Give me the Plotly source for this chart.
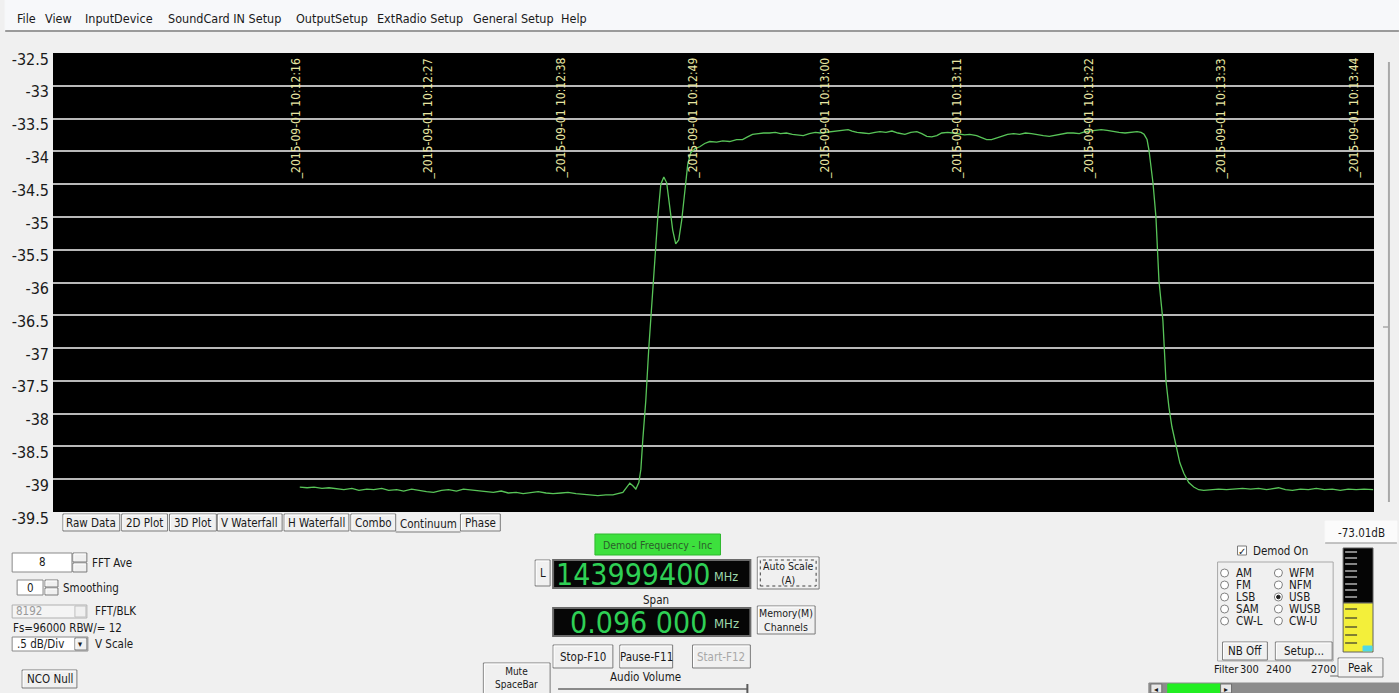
import pandas as pd
import plotly.graph_objects as go

# ---- signal level over time (seconds after 10:12:16) ----
T0 = pd.Timestamp("2015-09-01 10:12:16")

elapsed_s = [
    0.00, 0.61, 1.19, 1.85, 2.43, 3.09, 3.67, 4.34, 4.92, 5.58, 6.16, 6.82, 7.40, 8.07,
    8.65, 9.31, 9.89, 10.55, 11.13, 11.80, 12.38, 13.04, 13.62, 14.28, 14.86, 15.53,
    16.11, 16.77, 17.35, 18.01, 18.59, 19.26, 19.84, 20.50, 21.08, 21.75, 22.33, 22.99,
    23.57, 24.23, 24.81, 25.48, 26.06, 26.47, 26.89, 27.22, 27.47, 27.72, 27.97, 28.22,
    28.39, 28.55, 28.80, 29.05, 29.30, 29.55, 29.80, 30.05, 30.30, 30.54, 30.79, 31.04,
    31.29, 31.54, 31.79, 32.04, 32.29, 32.54, 32.87, 33.29, 33.70, 34.12, 34.70, 35.20,
    35.78, 36.36, 36.85, 37.27, 37.68, 38.18, 38.60, 39.09, 39.59, 40.01, 40.50, 41.00,
    41.50, 41.91, 42.41, 42.91, 43.32, 43.82, 44.32, 44.81, 45.31, 45.64, 45.97, 46.39,
    46.89, 47.38, 47.88, 48.29, 48.79, 49.29, 49.79, 50.37, 50.86, 51.36, 51.77, 52.19,
    52.60, 53.02, 53.43, 53.93, 54.35, 54.84, 55.34, 55.76, 56.34, 56.75, 57.17, 57.58,
    58.00, 58.41, 58.91, 59.41, 59.91, 60.40, 60.90, 61.40, 61.89, 62.39, 62.89, 63.39,
    63.88, 64.38, 64.88, 65.37, 65.87, 66.29, 66.70, 67.20, 67.70, 68.19, 68.69, 69.19,
    69.69, 70.02, 70.27, 70.52, 70.68, 71.02, 71.26, 71.51, 71.84, 72.09, 72.34, 72.59,
    72.92, 73.25, 73.58, 73.99, 74.41, 74.82, 75.24, 75.82, 76.48, 77.14, 77.81, 78.47,
    79.14, 79.80, 80.46, 80.96, 81.46, 82.04, 82.62, 83.29, 83.95, 84.61, 85.28, 85.94,
    86.60, 87.27, 87.93, 88.59, 89.34,
]

level_db = [
    -39.12, -39.13, -39.12, -39.14, -39.13, -39.15, -39.16, -39.14, -39.17, -39.15, -39.16,
    -39.14, -39.17, -39.16, -39.18, -39.15, -39.17, -39.19, -39.20, -39.17, -39.16, -39.18,
    -39.15, -39.16, -39.17, -39.19, -39.20, -39.18, -39.21, -39.20, -39.22, -39.20, -39.19,
    -39.21, -39.22, -39.21, -39.20, -39.22, -39.23, -39.24, -39.25, -39.24, -39.24, -39.22,
    -39.20, -39.12, -39.06, -39.10, -39.15, -39.05, -38.85, -38.40, -37.80, -37.00, -36.30,
    -35.60, -35.00, -34.50, -34.39, -34.48, -34.85, -35.20, -35.41, -35.35, -35.05, -34.60,
    -34.20, -34.02, -33.96, -33.93, -33.88, -33.85, -33.86, -33.84, -33.85, -33.82, -33.82,
    -33.78, -33.74, -33.73, -33.72, -33.72, -33.71, -33.73, -33.72, -33.74, -33.75, -33.76,
    -33.73, -33.71, -33.72, -33.71, -33.70, -33.69, -33.68, -33.67, -33.69, -33.71, -33.72,
    -33.73, -33.71, -33.70, -33.71, -33.69, -33.72, -33.74, -33.71, -33.70, -33.73, -33.77,
    -33.78, -33.76, -33.72, -33.71, -33.72, -33.74, -33.75, -33.74, -33.76, -33.79, -33.82,
    -33.82, -33.80, -33.77, -33.74, -33.73, -33.74, -33.72, -33.73, -33.75, -33.76, -33.77,
    -33.75, -33.74, -33.72, -33.72, -33.73, -33.70, -33.69, -33.68, -33.67, -33.68, -33.70,
    -33.71, -33.72, -33.71, -33.70, -33.71, -33.74, -33.82, -33.98, -34.49, -35.00, -35.97,
    -36.58, -37.49, -37.90, -38.20, -38.50, -38.75, -38.91, -39.05, -39.12, -39.16, -39.17,
    -39.16, -39.15, -39.16, -39.15, -39.14, -39.15, -39.14, -39.16, -39.15, -39.13, -39.16,
    -39.17, -39.15, -39.16, -39.14, -39.16, -39.15, -39.17, -39.15, -39.16, -39.15, -39.16,
]

marker_labels = [
    "2015-09-01 10:12:16", "2015-09-01 10:12:27", "2015-09-01 10:12:38",
    "2015-09-01 10:12:49", "2015-09-01 10:13:00", "2015-09-01 10:13:11",
    "2015-09-01 10:13:22", "2015-09-01 10:13:33", "2015-09-01 10:13:44",
]

y_ticks = [-32.5, -33, -33.5, -34, -34.5, -35, -35.5, -36, -36.5, -37, -37.5, -38, -38.5, -39, -39.5]
y_tick_text = ["-32.5", "-33", "-33.5", "-34", "-34.5", "-35", "-35.5", "-36", "-36.5",
               "-37", "-37.5", "-38", "-38.5", "-39", "-39.5"]

view_start_s = -20.54
view_end_s = 89.41

menu_items = ["File", "View", "InputDevice", "SoundCard IN Setup", "OutputSetup",
              "ExtRadio Setup", "General Setup", "Help"]
tab_names = ["Raw Data", "2D Plot", "3D Plot", "V Waterfall", "H Waterfall", "Combo", "Continuum", "Phase"]
modes_left = ["AM", "FM", "LSB", "SAM", "CW-L"]
modes_right = ["WFM", "NFM", "USB", "WUSB", "CW-U"]
filter_edges = ["300", "2400", "2700"]

# ---- page geometry ----
W, H = 1399, 693
ML, MR, MT, MB = 48, 25, 53, 181
PW, PH = W - ML - MR, H - MT - MB

UI_FONT = "Liberation Sans Narrow, DejaVu Sans Condensed, Liberation Sans, sans-serif"
BG = "#f0f0f0"


def PX(x):
    return (x - ML) / PW


def PY(y):
    return (H - MB - y) / PH


shapes = []
annotations = []


def box(x0, y0, x1, y1, fill=BG, line="#a0a0a0", width=1, dash=None):
    ln = dict(color=line, width=width)
    if dash:
        ln["dash"] = dash
    shapes.append(dict(type="rect", xref="paper", yref="paper", layer="above",
                       x0=PX(x0), x1=PX(x1), y0=PY(y1), y1=PY(y0),
                       fillcolor=fill, line=ln))


def hline(x0, x1, y, color="#a0a0a0", width=1):
    shapes.append(dict(type="line", xref="paper", yref="paper", layer="above",
                       x0=PX(x0), x1=PX(x1), y0=PY(y), y1=PY(y),
                       line=dict(color=color, width=width)))


def vline(x, y0, y1, color="#a0a0a0", width=1):
    shapes.append(dict(type="line", xref="paper", yref="paper", layer="above",
                       x0=PX(x), x1=PX(x), y0=PY(y0), y1=PY(y1),
                       line=dict(color=color, width=width)))


def circle(cx, cy, r, fill="white", line="#808080"):
    shapes.append(dict(type="circle", xref="paper", yref="paper", layer="above",
                       x0=PX(cx - r), x1=PX(cx + r), y0=PY(cy + r), y1=PY(cy - r),
                       fillcolor=fill, line=dict(color=line, width=1)))


def label(x, y, text, size=11, color="#1a1a1a", xanchor="left", family=UI_FONT):
    annotations.append(dict(xref="paper", yref="paper", x=PX(x), y=PY(y), text=text,
                            showarrow=False, xanchor=xanchor, yanchor="middle",
                            font=dict(size=size, color=color, family=family)))


def button(x0, y0, x1, y1, text, size=11, color="#1a1a1a", text_y=None):
    box(x0, y0, x1, y1, fill=BG, line="#7a7a7a")
    hline(x0 + 1, x1 - 1, y0 + 1, color="#ffffff")
    vline(x0 + 1, y0 + 1, y1 - 1, color="#ffffff")
    ty = (y0 + y1) / 2 if text_y is None else text_y
    label((x0 + x1) / 2, ty, text, size=size, color=color, xanchor="center")


# ---- menu bar ----
box(0, 0, W, 31, fill="#f7f8fa", line="#f7f8fa")
hline(0, W, 31, color="#9a9a9a", width=2)
menu_x = [10, 38, 78, 161, 290, 371, 468, 556]
for mx, name in zip(menu_x, menu_items):
    label(mx, 19, name, size=12.5, color="#1a1a1a")

# ---- right-hand vertical slider ----
vline(1389, 62, 502, color="#a8a8a8", width=2)
hline(1383, 1389, 327, color="#a8a8a8", width=1.5)

# ---- display tabs ----
tab_x = [(58, 115), (117, 163), (165, 212), (213, 278), (280, 345), (347, 392), (392, 457), (457, 497)]
for (x0, x1), name in zip(tab_x, tab_names):
    if name == "Continuum":
        hline(x0, x1, 532, color="#7a7a7a")
        label((x0 + x1) / 2, 524, name, size=11.5, xanchor="center")
    else:
        button(x0, 514, x1, 531, name, size=11.5)

# ---- left-side controls ----
box(7, 553, 67, 572, fill="white", line="#8a8a8a")
label(37, 562, "8", size=11.5, xanchor="center")
button(68, 553, 82, 562, "", size=6)
button(68, 563, 82, 572, "", size=6)
label(85, 563, "FFT Ave", size=11.5)

box(12, 580, 38, 595, fill="white", line="#8a8a8a")
label(25, 588, "0", size=11.5, xanchor="center")
button(40, 580, 53, 587, "", size=6)
button(40, 588, 53, 595, "", size=6)
label(56, 588, "Smoothing", size=11.5)

box(7, 605, 82, 618, fill="#f4f4f4", line="#b0b0b0")
label(9, 611, "8192", size=11.5, color="#9a9a9a")
box(70, 606, 81, 617, fill=BG, line="#c0c0c0")
label(88, 611, "FFT/BLK", size=11.5)
label(6, 628, "Fs=96000 RBW/= 12", size=11.5)

box(7, 637, 83, 651, fill="white", line="#8a8a8a")
label(10, 644, ".5 dB/Div", size=11.5)
button(70, 638, 82, 650, "▾", size=9)
label(88, 644, "V Scale", size=11.5)

button(17, 670, 72, 688, "NCO Null", size=11.5)

# ---- centre: demod frequency and span ----
box(592, 534, 718, 555, fill="#3de03d", line="#2fb82f")
label(655, 545, "Demod Frequency - Inc", size=10.5, color="#2b5e2b", xanchor="center")

button(532, 560, 547, 586, "L", size=11.5)
box(550, 560, 748, 588, fill="#060606", line="#6a6a6a", width=2)
label(710, 574, "143999400", size=30, color="#2fcf55", xanchor="right")
label(709, 576, "MHz", size=12.5, color="#9fd8ac")

label(653, 600, "Span", size=11.5, xanchor="center")
box(550, 608, 748, 636, fill="#060606", line="#6a6a6a", width=2)
label(706, 622, "0.096 000", size=30, color="#2fcf55", xanchor="right")
label(709, 623, "MHz", size=13, color="#9fd8ac")

button(755, 557, 817, 589, "Auto Scale<br>(A)", size=10.5)
box(758, 560, 814, 586, fill="rgba(0,0,0,0)", line="#404040", dash="dot")
button(755, 606, 813, 634, "Memory(M)<br>Channels", size=10.5)

button(550, 645, 610, 668, "Stop-F10", size=11.5)
button(617, 645, 670, 668, "Pause-F11", size=11.5)
button(690, 645, 748, 668, "Start-F12", size=11.5, color="#a8a8a8")

button(480, 663, 547, 700, "Mute<br>SpaceBar", size=10, text_y=678)
label(643, 677, "Audio Volume", size=11.5, xanchor="center")
hline(555, 745, 689, color="#8a8a8a", width=2)
vline(745, 684, 693, color="#5a5a5a", width=2)

# ---- right: demodulator panel and level meter ----
box(1325, 521, 1397, 543, fill="#fbfbfb", line="#fbfbfb")
hline(1325, 1397, 543, color="#8a8a8a")
label(1361, 533, "-73.01dB", size=11.5, xanchor="center")

box(1237, 546, 1246, 555, fill="white", line="#7a7a7a")
label(1241.5, 551, "✓", size=10, xanchor="center", family="DejaVu Sans")
label(1251, 551, "Demod On", size=11.5)

box(1217, 562, 1333, 661, fill="rgba(0,0,0,0)", line="#a8a8a8")
mode_y = [573, 585, 597, 609, 621]
for yy, left_name, right_name in zip(mode_y, modes_left, modes_right):
    circle(1224, yy, 4)
    label(1233, yy, left_name, size=11.5)
    circle(1278, yy, 4)
    label(1287, yy, right_name, size=11.5)
circle(1278, 597, 1.8, fill="#202020", line="#202020")

button(1222, 642, 1267, 660, "NB Off", size=11.5)
button(1275, 642, 1332, 660, "Setup...", size=11.5)
label(1211, 669, "Filter", size=11)
for fx, edge in zip([1237, 1264, 1309], filter_edges):
    label(fx, 669, edge, size=11)
hline(1330, 1338, 676, color="#6a6a6a")

box(1343, 548, 1373, 603, fill="#050505", line="#606060")
box(1343, 603, 1373, 652, fill="#f3ef3a", line="#606060")
for ty in [552, 558, 564, 571, 577, 584, 590, 597]:
    hline(1345, 1357, ty, color="#b0b0b0", width=1.5)
for ty in [609, 618, 627, 635, 643]:
    hline(1345, 1357, ty, color="#5a5a30", width=1.5)
box(1363, 646, 1372, 651, fill="#4fd8e8", line="#4fd8e8")
button(1338, 658, 1383, 677, "Peak", size=11.5)

box(1148, 683, 1399, 693, fill="#8c8c8c", line="#8c8c8c")
box(1150, 684, 1161, 693, fill="#e8e8e8", line="#707070")
label(1155.5, 689, "◂", size=8, xanchor="center", family="DejaVu Sans")
box(1167, 684, 1220, 693, fill="#22ee22", line="#22ee22")
box(1220, 684, 1231, 693, fill="#e8e8e8", line="#707070")
label(1225.5, 689, "▸", size=8, xanchor="center", family="DejaVu Sans")

# ---- timestamps drawn vertically inside the plot ----
for lab in marker_labels:
    annotations.append(dict(xref="x", yref="paper", x=str(pd.Timestamp(lab)), y=1,
                            yshift=-3, xshift=-4, text="_" + lab, textangle=-90,
                            showarrow=False, xanchor="center", yanchor="top",
                            font=dict(size=12, color="#e8e6a2", family=UI_FONT)))

times = T0 + pd.to_timedelta(elapsed_s, unit="s")

fig = go.Figure(go.Scatter(x=times, y=level_db, mode="lines",
                           line=dict(color="#58c458", width=1.3),
                           hoverinfo="skip", showlegend=False))

fig.update_layout(
    width=W, height=H,
    margin=dict(l=ML, r=MR, t=MT, b=MB),
    paper_bgcolor=BG, plot_bgcolor="#000000",
    xaxis=dict(type="date",
               range=[str(T0 + pd.Timedelta(seconds=view_start_s)),
                      str(T0 + pd.Timedelta(seconds=view_end_s))],
               showgrid=False, showticklabels=False, zeroline=False, showline=False,
               ticks=""),
    yaxis=dict(range=[-39.5, -32.5], tickvals=y_ticks, ticktext=y_tick_text,
               showgrid=True, gridcolor="#b8b8b8", gridwidth=1.6, zeroline=False,
               showline=False, ticks="", ticklabelstandoff=3, ticklabelshift=6,
               tickfont=dict(size=16, color="#1a1a1a", family=UI_FONT)),
    shapes=shapes,
    annotations=annotations,
)

fig.write_html("out.html")
